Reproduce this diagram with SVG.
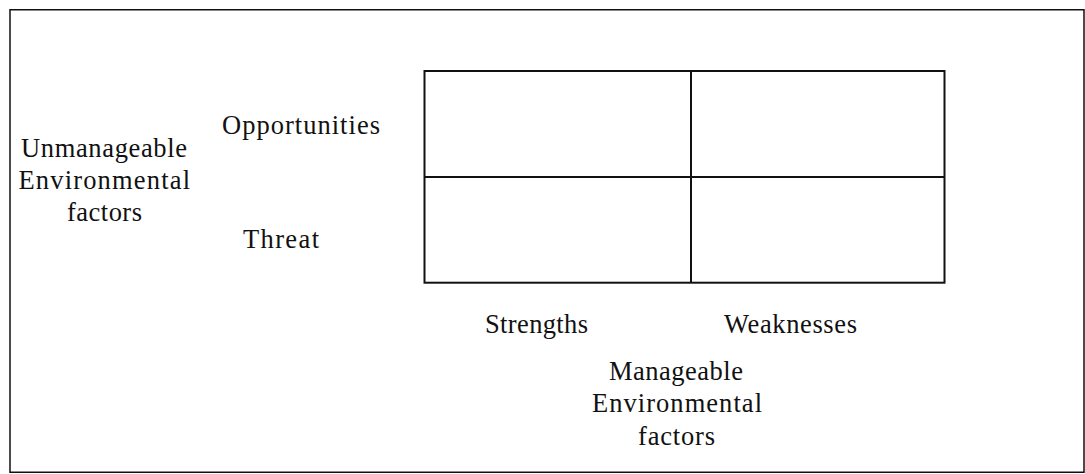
<svg xmlns="http://www.w3.org/2000/svg" width="1085" height="474" viewBox="0 0 1085 474">
  <style>
    .t { font-family: "Liberation Serif", "DejaVu Serif", serif; font-size: 26.5px; fill: #111; }
    .frame { fill: #fff; stroke: #111; stroke-width: 1.5; }
    .grid { fill: none; stroke: #111; stroke-width: 2; }
  </style>
  <rect x="0" y="0" width="1085" height="474" fill="#fff"/>
  <g id="frame">
    <rect class="frame" x="10" y="9.75" width="1074" height="462.5"/>
  </g>
  <g id="matrix">
    <rect class="grid" x="424.5" y="71" width="520" height="211.7"/>
    <line class="grid" x1="424.5" y1="177" x2="944.5" y2="177"/>
    <line class="grid" x1="691" y1="71" x2="691" y2="282.7"/>
  </g>
  <g id="left-labels">
    <text class="t" x="21" y="157" textLength="166" lengthAdjust="spacing">Unmanageable</text>
    <text class="t" x="18.5" y="189" textLength="171.5" lengthAdjust="spacing">Environmental</text>
    <text class="t" x="67" y="221" textLength="75" lengthAdjust="spacing">factors</text>
  </g>
  <g id="row-labels">
    <text class="t" x="222" y="134" textLength="158" lengthAdjust="spacing">Opportunities</text>
    <text class="t" x="243" y="248" textLength="76" lengthAdjust="spacing">Threat</text>
  </g>
  <g id="column-labels">
    <text class="t" x="485" y="333" textLength="103" lengthAdjust="spacing">Strengths</text>
    <text class="t" x="724" y="333" textLength="133" lengthAdjust="spacing">Weaknesses</text>
  </g>
  <g id="bottom-labels">
    <text class="t" x="609" y="380" textLength="134" lengthAdjust="spacing">Manageable</text>
    <text class="t" x="592" y="412" textLength="170" lengthAdjust="spacing">Environmental</text>
    <text class="t" x="638" y="445" textLength="77" lengthAdjust="spacing">factors</text>
  </g>
  <g id="connectors"></g>
</svg>
